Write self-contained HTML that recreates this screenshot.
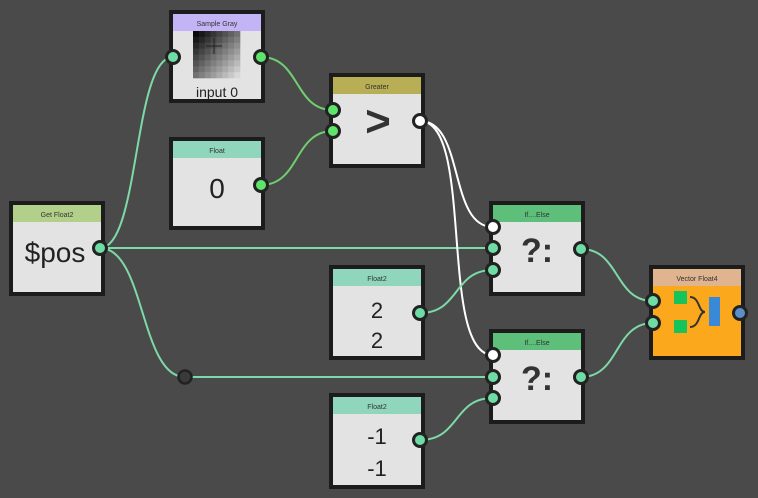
<!DOCTYPE html>
<html><head><meta charset="utf-8"><style>
html,body{margin:0;padding:0;background:#4a4a4a;}
svg{display:block;font-family:"Liberation Sans","DejaVu Sans",sans-serif;}
</style></head><body>
<svg width="758" height="498" viewBox="0 0 758 498">
<rect width="758" height="498" fill="#4a4a4a"/>
<g fill="none" stroke-width="2">
<path d="M100,248 C140,248 133,57 173,57" stroke="#7dd9a7"/>
<path d="M100,248 L493,248" stroke="#7dd9a7"/>
<path d="M100,248 C145,248 140,377 185,377 L493,377" stroke="#7dd9a7"/>
<path d="M261,57 C300,57 294,110 333,110" stroke="#6fcf6f"/>
<path d="M261,185 C300,185 294,131 333,131" stroke="#6fcf6f"/>
<path d="M420,121 C465,121 448,227 493,227" stroke="#ffffff"/>
<path d="M420,121 C475,121 438,355 493,355" stroke="#ffffff"/>
<path d="M420,313 C460,313 453,270 493,270" stroke="#7dd9a7"/>
<path d="M420,440 C460,440 453,398 493,398" stroke="#7dd9a7"/>
<path d="M581,249 C620,249 614,301 653,301" stroke="#7dd9a7"/>
<path d="M581,377 C620,377 614,323 653,323" stroke="#7dd9a7"/>
</g>
<circle cx="185" cy="377" r="6.5" fill="#3a3a3a" stroke="#222" stroke-width="2.5"/>

<g stroke="#1c1c1c" stroke-width="4">
<rect x="11" y="203" width="92" height="91" fill="#e3e3e3"/>
<rect x="171" y="12" width="92" height="89" fill="#e3e3e3"/>
<rect x="171" y="139" width="92" height="89" fill="#e3e3e3"/>
<rect x="331" y="75" width="92" height="91" fill="#e3e3e3"/>
<rect x="331" y="267" width="92" height="91" fill="#e3e3e3"/>
<rect x="331" y="395" width="92" height="92" fill="#e3e3e3"/>
<rect x="491" y="203" width="92" height="91" fill="#e3e3e3"/>
<rect x="491" y="331" width="92" height="91" fill="#e3e3e3"/>
<rect x="651" y="267" width="92" height="91" fill="#fba81c"/>
</g>
<rect x="13" y="205" width="88" height="17" fill="#b3d08a"/>
<rect x="173" y="14" width="88" height="17" fill="#c3b5f5"/>
<rect x="173" y="141" width="88" height="17" fill="#8fd6bc"/>
<rect x="333" y="77" width="88" height="17" fill="#b8ae55"/>
<rect x="333" y="269" width="88" height="17" fill="#8fd6bc"/>
<rect x="333" y="397" width="88" height="17" fill="#8fd6bc"/>
<rect x="493" y="205" width="88" height="17" fill="#5dbf7a"/>
<rect x="493" y="333" width="88" height="17" fill="#5dbf7a"/>
<rect x="653" y="269" width="88" height="17" fill="#dfb48f"/>

<g font-size="7" fill="#333" text-anchor="middle">
<text x="57" y="217">Get Float2</text>
<text x="217" y="26">Sample Gray</text>
<text x="217" y="153">Float</text>
<text x="377" y="89">Greater</text>
<text x="377" y="281">Float2</text>
<text x="377" y="409">Float2</text>
<text x="537" y="217">If....Else</text>
<text x="537" y="345">If....Else</text>
<text x="697" y="281">Vector Float4</text>
</g>

<g id="grid">
<rect x="193" y="31" width="47" height="47" fill="#888"/>
</g>
<script>
(function(){var g=document.getElementById('grid'),ns='http://www.w3.org/2000/svg',s=47/8;
for(var i=0;i<8;i++)for(var j=0;j<8;j++){var r=document.createElementNS(ns,'rect');
r.setAttribute('x',193+i*s);r.setAttribute('y',31+j*s);r.setAttribute('width',s+0.3);r.setAttribute('height',s+0.3);
var v=Math.round(10+(i+j)/14*205);r.setAttribute('fill','rgb('+v+','+v+','+v+')');g.appendChild(r);}})();
</script>
<path d="M214,38 v16 M206,46 h16" stroke="#222" stroke-width="1"/>
<text x="217" y="97" font-size="14" fill="#222" text-anchor="middle">input 0</text>

<g fill="#222" text-anchor="middle">
<text x="55" y="262" font-size="28">$pos</text>
<text x="217" y="198" font-size="28">0</text>
<text x="378" y="136" font-size="44" font-weight="bold" fill="#333">&gt;</text>
<text x="377" y="318" font-size="22">2</text>
<text x="377" y="348" font-size="22">2</text>
<text x="377" y="444" font-size="22">-1</text>
<text x="377" y="476" font-size="22">-1</text>
<text x="537" y="262" font-size="34" font-weight="bold" fill="#333">?:</text>
<text x="537" y="390" font-size="34" font-weight="bold" fill="#333">?:</text>
</g>

<rect x="674" y="291" width="13" height="13" fill="#16c45a"/>
<rect x="674" y="320" width="13" height="13" fill="#16c45a"/>
<path d="M690,297 C700,297 698,312 705,312 C698,312 700,327 690,327" fill="none" stroke="#333" stroke-width="2"/>
<rect x="709" y="297" width="11" height="29" fill="#3a88d8"/>

<g stroke="#222" stroke-width="3">
<circle cx="100" cy="248" r="6.5" fill="#6fdca6"/>
<circle cx="173" cy="57" r="6.5" fill="#6fdca6"/>
<circle cx="261" cy="57" r="6.5" fill="#5fe36a"/>
<circle cx="261" cy="185" r="6.5" fill="#5fe36a"/>
<circle cx="333" cy="110" r="6.5" fill="#5fe36a"/>
<circle cx="333" cy="131" r="6.5" fill="#5fe36a"/>
<circle cx="420" cy="121" r="6.5" fill="#fff"/>
<circle cx="420" cy="313" r="6.5" fill="#6fdca6"/>
<circle cx="420" cy="440" r="6.5" fill="#6fdca6"/>
<circle cx="493" cy="227" r="6.5" fill="#fff"/>
<circle cx="493" cy="248" r="6.5" fill="#6fdca6"/>
<circle cx="493" cy="270" r="6.5" fill="#6fdca6"/>
<circle cx="581" cy="249" r="6.5" fill="#6fdca6"/>
<circle cx="493" cy="355" r="6.5" fill="#fff"/>
<circle cx="493" cy="377" r="6.5" fill="#6fdca6"/>
<circle cx="493" cy="398" r="6.5" fill="#6fdca6"/>
<circle cx="581" cy="377" r="6.5" fill="#6fdca6"/>
<circle cx="653" cy="301" r="6.5" fill="#6fdca6"/>
<circle cx="653" cy="323" r="6.5" fill="#6fdca6"/>
<circle cx="740" cy="313" r="6.5" fill="#5a8fc8"/>
</g>
</svg>
</body></html>
